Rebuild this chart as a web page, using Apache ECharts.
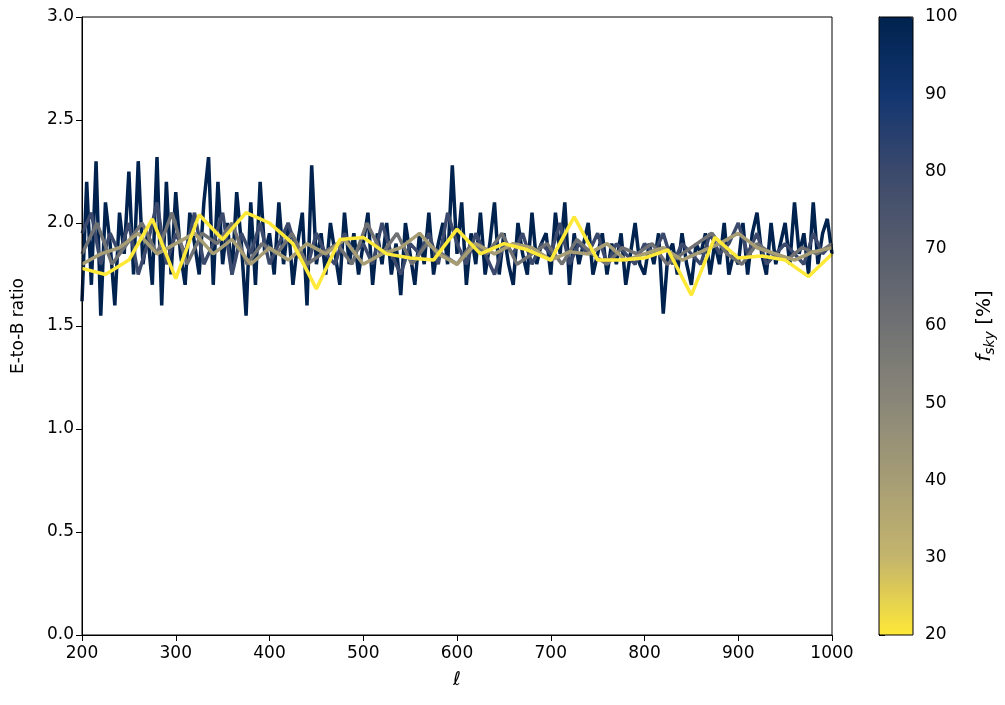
<!DOCTYPE html>
<html><head><meta charset="utf-8">
<script src="https://cdn.jsdelivr.net/npm/echarts@6/dist/echarts.min.js"></script>
<style>html,body{margin:0;padding:0;background:#fff}#c{width:1005px;height:705px}</style>
</head><body><div id="c"></div>
<script>
const fskyLevels = [100, 80, 60, 40, 20];
const ellStart = 200;
const ellSteps = [5, 10, 16, 20, 25];
const ratio100 = [1.62,2.2,1.7,2.3,1.55,2.1,1.9,1.6,2.05,1.85,
2.25,1.75,2.3,1.8,1.95,1.7,2.32,1.6,2.2,1.75,
2.15,1.85,1.7,2.05,1.9,1.75,2.1,2.32,1.7,2.2,
1.8,2.0,1.75,2.15,1.9,1.55,2.1,1.7,2.2,1.85,
1.95,1.75,2.1,1.8,2.0,1.7,1.9,2.05,1.6,2.28,
1.8,1.95,1.75,2.0,1.85,1.7,2.05,1.8,1.95,1.75,
1.9,2.05,1.7,1.95,1.8,2.0,1.75,1.9,1.65,2.0,
1.85,1.7,1.95,1.8,2.05,1.75,1.9,2.0,1.8,2.28,
1.85,2.1,1.7,1.95,1.8,2.05,1.75,1.9,2.1,1.75,
1.95,1.8,1.7,2.0,1.85,1.75,2.05,1.8,1.9,1.95,
1.75,2.05,1.85,2.1,1.7,1.95,1.8,1.9,2.0,1.75,
1.85,1.95,1.75,1.9,1.8,1.95,1.7,1.85,2.0,1.8,
1.75,1.9,1.8,1.95,1.56,1.85,1.9,1.75,1.95,1.8,
1.7,1.9,1.85,1.95,1.75,1.9,1.8,2.0,1.75,1.85,
1.8,2.0,1.75,1.95,2.05,1.85,1.75,2.0,1.8,1.9,
2.0,1.8,2.1,1.85,1.95,1.75,2.1,1.8,1.95,2.02,1.85];
const ratio80 = [1.95,2.05,1.8,1.95,1.85,2.0,1.75,1.9,2.1,1.8,
1.95,1.85,2.05,1.8,1.9,2.05,1.75,1.95,1.85,2.0,
1.8,1.9,2.0,1.85,1.78,1.95,1.85,1.8,1.95,1.85,
1.9,1.8,2.0,1.85,1.75,1.9,1.85,1.95,1.8,2.05,
1.9,1.8,1.95,1.85,1.75,1.9,1.85,1.95,1.8,1.9,
1.85,2.0,1.8,1.9,1.85,1.95,1.8,1.9,1.85,1.8,
1.9,1.85,1.95,1.8,1.9,1.85,1.8,1.95,1.85,1.9,
2.0,1.85,1.95,1.8,1.85,1.9,1.85,1.8,1.95,1.85,1.9];
const ratio60 = [1.85,2.0,1.8,1.9,2.0,1.85,2.05,1.8,1.95,1.9,
2.0,1.8,1.9,1.85,1.95,1.8,1.85,1.9,1.8,2.0,
1.85,1.95,1.8,1.9,1.85,1.8,1.9,1.85,1.95,1.8,
1.85,1.9,1.8,1.92,1.85,1.8,1.88,1.85,1.9,1.8,
1.85,1.9,1.95,1.85,1.8,1.9,1.85,1.82,1.88,1.85,1.9];
const ratio40 = [1.8,1.85,1.88,1.95,1.85,1.9,1.95,1.85,1.92,1.8,
1.88,1.82,1.9,1.85,1.92,1.8,1.85,1.88,1.95,1.85,
1.8,1.9,1.85,1.9,1.88,1.82,1.86,1.85,1.9,1.82,
1.85,1.88,1.82,1.86,1.9,1.95,1.88,1.85,1.82,1.86,1.88];
const ratio20 = [1.78,1.75,1.82,2.02,1.73,2.04,1.92,2.05,2.0,1.9,
1.68,1.92,1.93,1.85,1.83,1.82,1.97,1.85,1.9,1.87,
1.82,2.03,1.82,1.82,1.83,1.87,1.65,1.93,1.83,1.84,
1.82,1.74,1.85];
const allRatios = [ratio100, ratio80, ratio60, ratio40, ratio20];
const cividisR = ['#fee838','#c4b56c','#a69d75','#8a8778','#707173','#575d6d','#3b496c','#123570','#00224e'];
function colorFor(f){ const t=(f-20)/80*(cividisR.length-1); const i=Math.min(Math.floor(t),cividisR.length-2); const a=t-i;
  const p=c=>[1,3,5].map(k=>parseInt(c.substr(k,2),16)); const c0=p(cividisR[i]),c1=p(cividisR[i+1]);
  return 'rgb('+c0.map((v,k)=>Math.round(v+(c1[k]-v)*a)).join(',')+')'; }
const series = fskyLevels.map((f,si)=>({type:'line',xAxisIndex:0,yAxisIndex:0,symbol:'none',silent:true,
  lineStyle:{width:3.5,color:colorFor(f)},z:2+si,
  data: allRatios[si].map((v,i)=>[ellStart+i*ellSteps[si], v])}));
series.push({type:'scatter',xAxisIndex:1,yAxisIndex:1,data:[]});
const txt={color:'#000',fontSize:17,fontFamily:'DejaVu Sans'};
const chart = echarts.init(document.getElementById('c'));
chart.setOption({
  animation:false,
  grid:[{left:82,right:173,top:17,bottom:70},{left:879,width:34,top:17,bottom:70}],
  xAxis:[{type:'value',min:200,max:1000,interval:100,name:'ℓ',nameLocation:'middle',nameGap:36,
    nameTextStyle:{...txt,fontSize:19,fontStyle:'italic'},axisLabel:{...txt,margin:10,formatter:v=>String(v)},
    axisLine:{lineStyle:{color:'#000'}},axisTick:{inside:false,length:6,lineStyle:{color:'#000'}},splitLine:{show:false}},
   {gridIndex:1,type:'value',min:0,max:1,show:false}],
  yAxis:[{type:'value',min:0,max:3,interval:0.5,name:'E-to-B ratio',nameLocation:'middle',nameGap:55,
    nameTextStyle:txt,axisLabel:{...txt,formatter:v=>v.toFixed(1)},
    axisLine:{show:true,lineStyle:{color:'#000'}},axisTick:{show:true,length:6,lineStyle:{color:'#000'}},splitLine:{show:false}},
   {gridIndex:1,type:'value',min:20,max:100,interval:10,position:'right',axisLabel:{...txt,margin:12},
    axisLine:{show:true,lineStyle:{color:'#000'}},axisTick:{show:true,length:6,lineStyle:{color:'#000'}},splitLine:{show:false}}],
  visualMap:{type:'continuous',min:20,max:100,seriesIndex:5,left:879,top:17,itemWidth:34,itemHeight:618,padding:0,
    text:null,showLabel:false,calculable:false,hoverLink:false,indicatorSize:0,inRange:{color:cividisR}},
  graphic:[
    {type:'rect',shape:{x:82,y:17,width:750,height:618},style:{fill:null,stroke:'#000',lineWidth:1},z:100,silent:true},
    {type:'rect',shape:{x:879,y:17,width:34,height:618},style:{fill:null,stroke:'#000',lineWidth:1},z:100,silent:true},
    {type:'text',x:985,y:326,rotation:Math.PI/2,style:{text:'{i|f}{s|sky} [%]',align:'center',verticalAlign:'middle',
      rich:{i:{fontSize:20,fontStyle:'italic',fontFamily:'DejaVu Sans',fill:'#000'},s:{fontSize:14,fontStyle:'italic',fontFamily:'DejaVu Sans',fill:'#000',padding:[10,0,0,0]}},fontSize:20,fontFamily:'DejaVu Sans',fill:'#000'}}
  ],
  series
});
</script></body></html>
